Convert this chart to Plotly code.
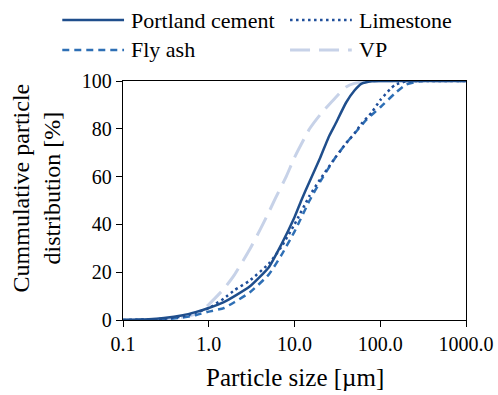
import plotly.graph_objects as go

# Particle size [µm] and cumulative distribution [%]
pc_x = [0.1, 0.2, 0.3, 0.5, 0.7, 1.0, 1.5, 2, 3, 5, 7, 10, 12, 15, 20, 25, 30, 40, 50, 60, 80, 100, 1000]
pc_y = [0, 0.3, 0.8, 2, 3.3, 5, 7.5, 10, 14, 22, 31.5, 43, 50, 58, 68, 76.5, 82, 91, 96, 98.8, 99.9, 100, 100]

ls_x = [0.1, 0.3, 0.5, 0.7, 1.0, 1.5, 2, 3, 5, 7, 10, 15, 20, 30, 40, 50, 60, 80, 100, 130, 150, 200, 300, 1000]
ls_y = [0, 0.5, 1.5, 3, 5, 9, 12.5, 16.5, 23.5, 30.5, 40, 52, 59, 68, 74, 78, 82, 87, 92, 96.5, 98.5, 99.8, 100, 100]

fa_x = [0.1, 0.2, 0.3, 0.5, 0.7, 1.0, 1.5, 2, 3, 5, 7, 10, 15, 20, 30, 40, 50, 70, 100, 150, 200, 300, 1000]
fa_y = [0, 0.1, 0.3, 1, 2, 3.5, 5, 7.5, 11.5, 19, 27, 37, 50, 58, 68, 74, 78, 84, 89, 95, 98.5, 100, 100]

vp_x = [0.1, 0.2, 0.3, 0.5, 0.7, 0.8, 1.0, 1.5, 2, 3, 4, 5, 6, 8, 10, 15, 20, 30, 40, 50, 70, 100, 1000]
vp_y = [0, 0.2, 0.5, 1.2, 2.5, 3.5, 6.5, 13, 19, 29.5, 38, 45, 51, 60, 68, 80, 86, 93, 97.5, 99, 99.8, 100, 100]

x_tickvals = [0.1, 1, 10, 100, 1000]
x_ticktext = ["0.1", "1.0", "10.0", "100.0", "1000.0"]

names = ["Portland cement", "Limestone", "Fly ash", "VP"]
colors = ["#1f4e8c", "#1f4e9a", "#2e6fb5", "#c7d2e8"]
dashes = ["solid", "2.5px,3.5px", "7px,5px", "20px,9px"]
widths = [2.5, 2.5, 2.5, 3]

FONT = "Liberation Serif"

fig = go.Figure()
series = [(pc_x, pc_y), (ls_x, ls_y), (fa_x, fa_y), (vp_x, vp_y)]
order = [3, 2, 1, 0]
for i in order:
    xs, ys = series[i]
    fig.add_trace(go.Scatter(
        x=xs, y=ys, mode="lines", name=names[i],
        line=dict(color=colors[i], dash=dashes[i], width=widths[i], shape="spline", smoothing=0.5),
        showlegend=False,
    ))

# manual legend (paper coords)
leg_pos = [(-0.177, 1.255), (0.487, 1.255), (-0.177, 1.13), (0.487, 1.13)]
for i in range(4):
    x0, yy = leg_pos[i]
    fig.add_shape(type="line", xref="paper", yref="paper",
                  x0=x0, x1=x0 + 0.18, y0=yy, y1=yy,
                  line=dict(color=colors[i], dash=dashes[i], width=widths[i]))
    fig.add_annotation(xref="paper", yref="paper", x=x0 + 0.195, y=yy,
                       text=names[i], showarrow=False, xanchor="left", yanchor="middle",
                       font=dict(family=FONT, size=22, color="#000"))

fig.add_annotation(xref="paper", yref="paper", x=-0.252, y=0.553,
                   text="Cummulative particle<br>distribution [%]", textangle=-90,
                   showarrow=False, xanchor="center", yanchor="middle",
                   font=dict(family=FONT, size=24, color="#000"))

fig.add_annotation(xref="paper", yref="paper", x=0.5, y=-0.24,
                   text="Particle size [µm]", showarrow=False,
                   xanchor="center", yanchor="middle",
                   font=dict(family=FONT, size=25, color="#000"))

fig.update_xaxes(type="log", range=[-1, 3], tickvals=x_tickvals, ticktext=x_ticktext,
                 showgrid=False, zeroline=False, showline=True, linecolor="#000", linewidth=1.3,
                 mirror=True, ticks="outside", ticklen=6, tickcolor="#000", tickwidth=1.3,
                 automargin=False,
                 tickfont=dict(family=FONT, size=20, color="#000"))
fig.update_yaxes(range=[0, 100], dtick=20, showgrid=False, zeroline=False, showline=True,
                 linecolor="#000", linewidth=1.3, mirror=True, ticks="outside", ticklen=6,
                 tickcolor="#000", tickwidth=1.3, automargin=False,
                 tickfont=dict(family=FONT, size=20, color="#000"))

fig.update_layout(width=498, height=395, margin=dict(l=123, r=32, t=81, b=75),
                  plot_bgcolor="white", paper_bgcolor="white", showlegend=False)

fig.write_html("out.html")
